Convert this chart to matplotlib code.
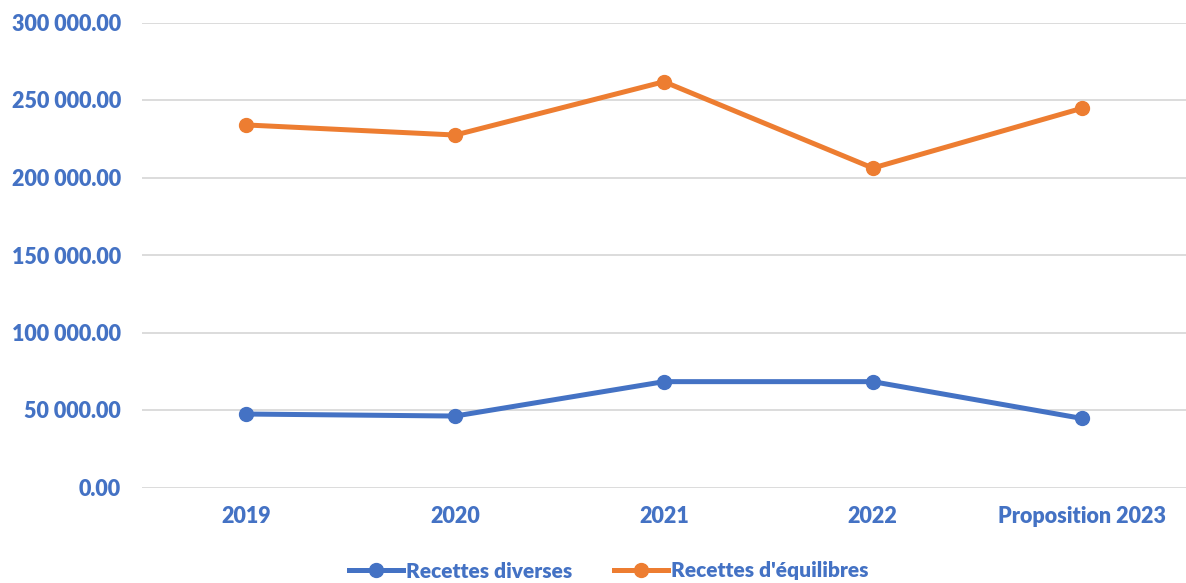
import numpy as np
import matplotlib
matplotlib.use('Agg')
import matplotlib.pyplot as plt
from matplotlib.ticker import FuncFormatter

plt.rcParams.update({'font.family': ['Lato', 'DejaVu Sans']})
plt.rcParams.update({'font.weight': 'bold'})

categories = ['2019', '2020', '2021', '2022', 'Proposition 2023']
recettes_diverses = [47400, 46100, 68300, 68300, 44600]
recettes_equilibres = [233900, 227400, 261800, 206100, 244600]
yticks = [0, 50000, 100000, 150000, 200000, 250000, 300000]

blue = '#4472C4'
orange = '#ED7D31'

fig = plt.figure(figsize=(11.86, 5.83), dpi=100, facecolor='w')
ax = fig.add_axes([142/1186, 95.5/583, 1 - 142/1186, 465/583])

x = np.arange(len(categories))
ax.plot(x, recettes_diverses, color=blue, lw=3.6, marker='o', ms=10, label='Recettes diverses')
ax.plot(x, recettes_equilibres, color=orange, lw=3.6, marker='o', ms=10, label="Recettes d'équilibres")

ax.set_xlim(-0.5, len(categories) - 0.5)
ax.set_ylim(0, 300000)
ax.set_yticks(yticks)
ax.yaxis.set_major_formatter(FuncFormatter(lambda v, p: f'{v:,.2f}'.replace(',', ' ')))
ax.set_xticks(x)
ax.set_xticklabels(categories)
ax.grid(axis='y', color='#D9D9D9', lw=1.3)
ax.set_axisbelow(True)
for s in ax.spines.values():
    s.set_visible(False)
ax.tick_params(length=0, labelsize=15.5, labelcolor=blue)
for lab in ax.get_xticklabels() + ax.get_yticklabels():
    lab.set_fontweight('heavy')
ax.tick_params(axis='y', pad=15)
ax.tick_params(axis='x', pad=13)

leg = fig.legend(loc='center', bbox_to_anchor=(609/1186, 1 - 571/583), ncol=2, frameon=False,
                 prop={'size': 15, 'weight': 'heavy'}, labelcolor=blue, handlelength=2.6,
                 columnspacing=2.0, handletextpad=0.15)

plt.savefig('out.png', dpi=100)
